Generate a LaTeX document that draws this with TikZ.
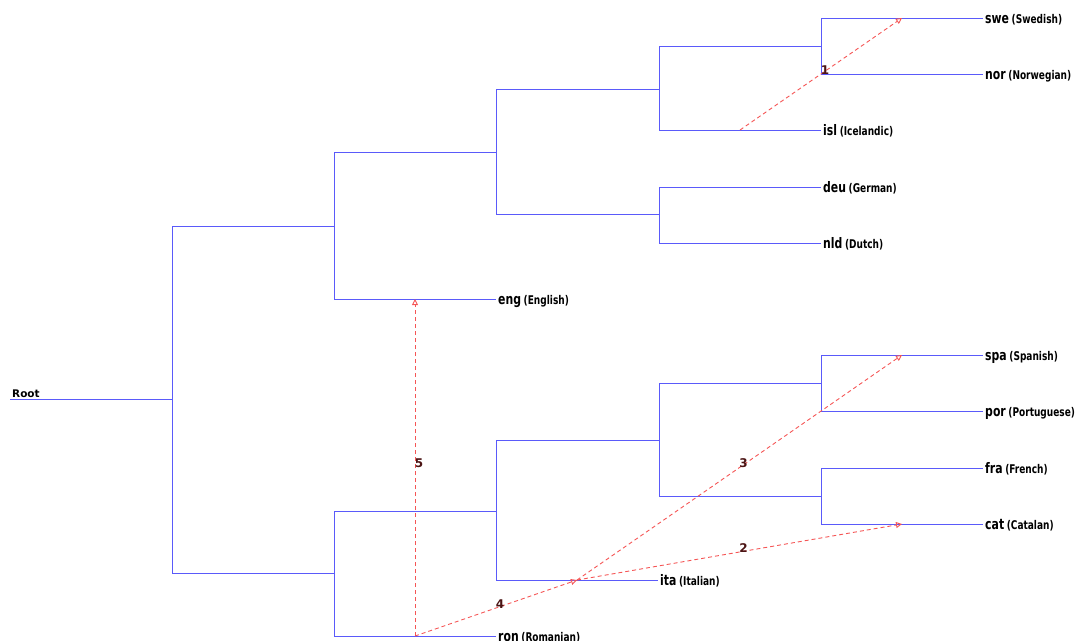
\documentclass[tikz,border=0pt]{standalone}
\usepackage{fontspec}
\setmainfont{DejaVu Sans}
\newfontfamily\leaffont[FakeStretch=0.75]{DejaVu Sans}
\usetikzlibrary{arrows.meta}

\definecolor{treeblue}{RGB}{90,90,250}
\definecolor{borrowred}{RGB}{245,85,85}
\definecolor{stepbrown}{RGB}{75,20,20}

\newcommand{\langlabel}[2]{{\fontsize{14.5}{16}\selectfont #1} {\fontsize{12}{14}\selectfont (#2)}}

\tikzset{
  branch/.style={draw=treeblue, line width=1pt},
  leaf/.style={anchor=west, inner sep=2pt, text height=10pt, text depth=0pt, font=\leaffont\bfseries},
  borrow/.style={draw=borrowred, line width=0.9pt, dash pattern=on 4pt off 3pt,
    -{Triangle[open, length=6pt, width=6pt]}},
  steplabel/.style={text=stepbrown, font=\fontsize{12}{12}\selectfont\bfseries,
    inner sep=0pt, xshift=4pt, yshift=4pt}
}

\begin{document}
\begin{tikzpicture}[x=1pt, y=-1pt]
    \useasboundingbox (0,0) rectangle (1078,640);

    % Root
    \coordinate (r0) at (10,399);
    \node[anchor=base west, inner sep=2pt, font=\fontsize{10.5}{12}\selectfont\bfseries] (rootlabel) at (10,397) {Root};
    \coordinate (top) at (172,399);

    % Germanic side
    \coordinate (germ) at (334,226);
    \coordinate (g1) at (496,152);
    \coordinate (nord) at (659,89);
    \coordinate (scand) at (821,46);
    \coordinate (westg) at (659,214);
    \node[leaf] (swe) at (983,18) {\langlabel{swe}{Swedish}};
    \node[leaf] (nor) at (983,74) {\langlabel{nor}{Norwegian}};
    \node[leaf] (isl) at (821,130) {\langlabel{isl}{Icelandic}};
    \node[leaf] (deu) at (821,187) {\langlabel{deu}{German}};
    \node[leaf] (nld) at (821,243) {\langlabel{nld}{Dutch}};
    \node[leaf] (eng) at (496,299) {\langlabel{eng}{English}};

    % Romance side
    \coordinate (rom) at (334,573);
    \coordinate (r1) at (496,511);
    \coordinate (r2) at (659,440);
    \coordinate (ibero) at (821,383);
    \coordinate (gallo) at (821,496);
    \node[leaf] (spa) at (983,355) {\langlabel{spa}{Spanish}};
    \node[leaf] (por) at (983,411) {\langlabel{por}{Portuguese}};
    \node[leaf] (fra) at (983,468) {\langlabel{fra}{French}};
    \node[leaf] (cat) at (983,524) {\langlabel{cat}{Catalan}};
    \node[leaf] (ita) at (658,580) {\langlabel{ita}{Italian}};
    \node[leaf] (ron) at (496,636) {\langlabel{ron}{Romanian}};

    % Branches
    \draw[branch] (r0) -- (top);
    \draw[branch] (top) |- (germ);
    \draw[branch] (top) |- (rom);
    \draw[branch] (germ) |- (g1);
    \draw[branch] (germ) |- (eng.west);
    \draw[branch] (g1) |- (nord);
    \draw[branch] (g1) |- (westg);
    \draw[branch] (nord) |- (scand);
    \draw[branch] (nord) |- (isl.west);
    \draw[branch] (scand) |- (swe.west);
    \draw[branch] (scand) |- (nor.west);
    \draw[branch] (westg) |- (deu.west);
    \draw[branch] (westg) |- (nld.west);
    \draw[branch] (rom) |- (r1);
    \draw[branch] (rom) |- (ron.west);
    \draw[branch] (r1) |- (r2);
    \draw[branch] (r1) |- (ita.west);
    \draw[branch] (r2) |- (ibero);
    \draw[branch] (r2) |- (gallo);
    \draw[branch] (ibero) |- (spa.west);
    \draw[branch] (ibero) |- (por.west);
    \draw[branch] (gallo) |- (fra.west);
    \draw[branch] (gallo) |- (cat.west);

    % Midpoints of the leaf branches
    \coordinate (m-isl) at (740,130);
    \coordinate (m-swe) at (902,18);
    \coordinate (m-spa) at (902,355);
    \coordinate (m-cat) at (902,524);
    \coordinate (m-ita) at (577,580);
    \coordinate (m-ron) at (415,636);
    \coordinate (m-eng) at (415,299);

    % Numbered arrows
    \draw[borrow] (m-isl) -- node[steplabel] (s1) {1} (m-swe);
    \draw[borrow] (m-ita) -- node[steplabel] (s2) {2} (m-cat);
    \draw[borrow] (m-ita) -- node[steplabel] (s3) {3} (m-spa);
    \draw[borrow] (m-ron) -- node[steplabel] (s4) {4} (m-ita);
    \draw[borrow] (m-ron) -- node[steplabel] (s5) {5} (m-eng);
\end{tikzpicture}
\end{document}
